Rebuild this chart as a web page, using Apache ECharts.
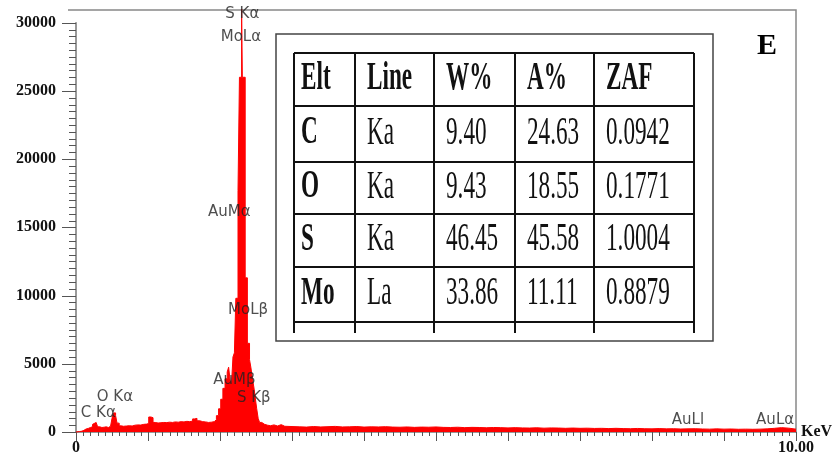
<!DOCTYPE html>
<html>
<head>
<meta charset="utf-8">
<style>
html, body { margin: 0; padding: 0; background: #fff; }
#chart { width: 837px; height: 456px; }
</style>
<script src="https://cdn.jsdelivr.net/npm/echarts@6/dist/echarts.min.js"></script>
</head>
<body>
<div id="chart"></div>
<script>
// EDS spectrum, energy in keV (left edge of each step) and counts
var spectrumKeV = [
  0.00, 0.02, 0.05, 0.08, 0.11, 0.14, 0.17, 0.20, 0.23, 0.25, 0.28, 0.30, 0.33, 0.36, 0.39,
  0.42, 0.45, 0.48, 0.50, 0.52, 0.55, 0.57, 0.60, 0.63, 0.66, 0.70, 0.74, 0.78, 0.82, 0.86,
  0.90, 0.94, 0.98, 1.01, 1.04, 1.07, 1.10, 1.14, 1.18, 1.22, 1.26, 1.30, 1.34, 1.38, 1.42,
  1.46, 1.50, 1.54, 1.58, 1.62, 1.65, 1.68, 1.72, 1.76, 1.80, 1.84, 1.88, 1.92, 1.95, 1.98,
  2.01, 2.04, 2.07, 2.10, 2.12, 2.14, 2.16, 2.18, 2.20, 2.22, 2.25, 2.27, 2.30, 2.31, 2.35,
  2.38, 2.41, 2.43, 2.45, 2.47, 2.49, 2.51, 2.53, 2.55, 2.58, 2.62, 2.66, 2.70, 2.75, 2.80,
  2.85, 2.90,
  3.0, 3.1, 3.2, 3.3, 3.4, 3.5, 3.6, 3.7, 3.8, 3.9, 4.0, 4.1, 4.2, 4.3, 4.4, 4.5, 4.6, 4.7, 4.8, 4.9,
  5.0, 5.1, 5.2, 5.3, 5.4, 5.5, 5.6, 5.7, 5.8, 5.9, 6.0, 6.1, 6.2, 6.3, 6.4, 6.5, 6.6, 6.7, 6.8, 6.9,
  7.0, 7.1, 7.2, 7.3, 7.4, 7.5, 7.6, 7.7, 7.8, 7.9, 8.0, 8.1, 8.2, 8.3, 8.4, 8.5, 8.6, 8.7, 8.8, 8.9,
  9.0, 9.1, 9.2, 9.3, 9.4, 9.5, 9.6, 9.7, 9.8, 9.9, 10.0
];
var spectrumCounts = [
  0, 30, 60, 120, 220, 260, 330, 380, 560, 700, 620, 380, 330, 350, 380,
  330, 420, 400, 1000, 1400, 1200, 650, 450, 420, 440, 460, 440, 500, 520, 510,
  560, 580, 620, 1100, 1050, 700, 660, 680, 700, 690, 720, 700, 740, 720, 760,
  740, 780, 760, 800, 960, 1000, 820, 760, 740, 700, 720, 760, 900, 1200, 1700,
  2400, 3200, 3900, 4400, 4750, 3800, 3500, 5500, 5800, 9800, 17700, 26000, 31000, 26000, 11300,
  6500, 5300, 4700, 3900, 3300, 2500, 1700, 1000, 700, 560, 500, 460, 520, 440, 540,
  420, 400,
  380, 360, 400, 370, 390, 410, 370, 380, 400, 360, 380, 370, 390, 360, 350, 370, 340, 360, 350, 370,
  340, 330, 350, 320, 340, 330, 310, 330, 320, 300, 320, 300, 290, 310, 280, 300, 290, 270, 290, 270,
  280, 260, 270, 250, 270, 250, 240, 260, 240, 230, 250, 230, 240, 220, 230, 240, 220, 210, 230, 210,
  220, 200, 210, 200, 210, 230, 270, 320, 280, 210, 180
];

// peak labels (text placed at keV / counts position)
var peakNames = ['S K\u03b1', 'MoL\u03b1', 'AuM\u03b1', 'MoL\u03b2', 'AuM\u03b2', 'S K\u03b2', 'C K\u03b1', 'O K\u03b1', 'AuLl', 'AuL\u03b1'];
var peakKeV = [2.31, 2.29, 2.13, 2.39, 2.20, 2.47, 0.31, 0.54, 8.50, 9.71];
var peakCounts = [30600, 28950, 16100, 8900, 3800, 2450, 1400, 2550, 850, 850];

// axis ticks
var xTickLabels = { 0: '0', 10: '10.00' };
var xMax = 10;
var xStep = 1;
var yMax = 30000;
var yStep = 5000;
var minorPerMajor = 10;

// quantitative result table
var tableHeader = ['Elt', 'Line', 'W%', 'A%', 'ZAF'];
var tableRows = [
  ['C', 'Ka', '9.40', '24.63', '0.0942'],
  ['O', 'Ka', '9.43', '18.55', '0.1771'],
  ['S', 'Ka', '46.45', '45.58', '1.0004'],
  ['Mo', 'La', '33.86', '11.11', '0.8879']
];
var panelLetter = 'E';

var chart = echarts.init(document.getElementById('chart'));

var spectrum = spectrumKeV.map(function (k, i) { return [k, spectrumCounts[i]]; });
var peaks = peakNames.map(function (n, i) { return { name: n, value: [peakKeV[i], peakCounts[i]] }; });

// tick marks: [axis (0 = x, 1 = y), value, major?]
var ticks = [];
var nx = Math.round(xMax / xStep) * minorPerMajor;
for (var i = 0; i <= nx; i++) ticks.push([0, i * xStep / minorPerMajor, i % minorPerMajor === 0 ? 1 : 0]);
var ny = Math.round(yMax / yStep) * minorPerMajor;
for (var j = 0; j <= ny; j++) ticks.push([1, j * yStep / minorPerMajor, j % minorPerMajor === 0 ? 1 : 0]);

function renderTick(params, api) {
  var axis = api.value(0), v = api.value(1), major = api.value(2);
  var p, shape;
  if (axis === 0) {
    p = api.coord([v, 0]);
    var x = Math.round(p[0]) + 0.5;
    shape = { x1: x, y1: p[1], x2: x, y2: p[1] + (major ? 9 : 4) };
  } else {
    p = api.coord([0, v]);
    var y = Math.round(p[1]) + 0.5;
    shape = { x1: p[0] - (major ? 14 : 7), y1: y, x2: p[0], y2: y };
  }
  return { type: 'line', shape: shape, style: { stroke: '#555', lineWidth: 1 } };
}

// table layout
var colX = [294, 355, 434, 515, 594, 694];
var rowY = [53, 106, 162, 214, 267, 322];
var tableBottom = 333;
var gfx = [];
gfx.push({ type: 'rect', shape: { x: 276, y: 34, width: 437, height: 307 },
  style: { fill: '#fff', stroke: '#444', lineWidth: 1.5 }, z: 10 });
rowY.forEach(function (y) {
  gfx.push({ type: 'line', shape: { x1: colX[0], y1: y, x2: colX[colX.length - 1], y2: y },
    style: { stroke: '#111', lineWidth: 2 }, z: 11 });
});
colX.forEach(function (x) {
  gfx.push({ type: 'line', shape: { x1: x, y1: rowY[0], x2: x, y2: tableBottom },
    style: { stroke: '#111', lineWidth: 2 }, z: 11 });
});
function cellText(txt, c, r, bold) {
  var pad = c === 0 ? 7 : 12;
  gfx.push({ type: 'text', x: colX[c] + pad, y: (rowY[r] + rowY[r + 1]) / 2 - 1, scaleX: 0.58, z: 12,
    style: { text: txt, fill: '#111', align: 'left', verticalAlign: 'middle',
      font: (bold ? 'bold ' : '') + '40px "Liberation Serif"' } });
}
tableHeader.forEach(function (h, c) { cellText(h, c, 0, true); });
tableRows.forEach(function (row, r) {
  row.forEach(function (v, c) { cellText(v, c, r + 1, c === 0); });
});
// plot frame (top and right)
gfx.push({ type: 'polyline', shape: { points: [[68, 10], [796, 10], [796, 433]] },
  style: { stroke: '#888', lineWidth: 1.5, fill: null }, z: 1 });
gfx.push({ type: 'text', x: 757, y: 31, z: 12,
  style: { text: panelLetter, fill: '#000', font: 'bold 30px "Liberation Serif"' } });

var option = {
  animation: false,
  grid: { left: 76, right: 41, top: 22.7, bottom: 23.3 },
  xAxis: {
    type: 'value', min: 0, max: xMax, interval: xStep,
    name: 'KeV', nameLocation: 'end', nameGap: 5,
    nameTextStyle: { color: '#111', fontFamily: 'Liberation Serif', fontWeight: 'bold', fontSize: 16,
      verticalAlign: 'middle', padding: [0, 0, 10, 0] },
    axisLine: { show: true, lineStyle: { color: '#777', width: 1.5 } },
    axisTick: { show: false },
    minorTick: { show: false },
    splitLine: { show: false },
    axisLabel: {
      margin: 8, color: '#111', fontFamily: 'Liberation Serif', fontWeight: 'bold', fontSize: 16,
      showMinLabel: true, showMaxLabel: true,
      formatter: function (v) { return xTickLabels[v] !== undefined ? xTickLabels[v] : ''; }
    }
  },
  yAxis: {
    type: 'value', min: 0, max: yMax, interval: yStep,
    axisLine: { show: true, lineStyle: { color: '#777', width: 1.5 } },
    axisTick: { show: false },
    minorTick: { show: false },
    splitLine: { show: false },
    axisLabel: { margin: 20, color: '#111', fontFamily: 'Liberation Serif', fontWeight: 'bold', fontSize: 16,
      formatter: function (v) { return String(v); } }
  },
  series: [
    {
      type: 'line', data: spectrum, step: 'end', showSymbol: false, clip: false,
      lineStyle: { color: '#ff0000', width: 1 },
      areaStyle: { color: '#ff0000', opacity: 1 },
      z: 3
    },
    {
      type: 'custom', data: ticks, renderItem: renderTick, clip: false, silent: true, z: 2,
      encode: { x: 1, y: 1 }
    },
    {
      type: 'scatter', data: peaks, symbolSize: 0, clip: false, z: 5,
      label: { show: true, position: 'inside', formatter: '{b}', color: '#222',
        fontFamily: 'DejaVu Sans', fontSize: 15 }
    }
  ],
  graphic: gfx
};
chart.setOption(option);
</script>
</body>
</html>
